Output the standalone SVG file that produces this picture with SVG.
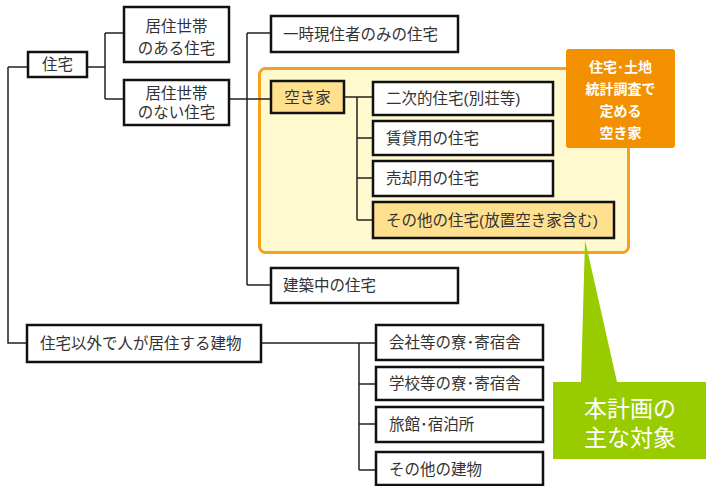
<svg xmlns="http://www.w3.org/2000/svg" width="706" height="486" viewBox="0 0 706 486">
<style>
.box{fill:#fff;stroke:#111;stroke-width:2.5}
.hl{fill:#FFE08E;stroke:#111;stroke-width:2.5}
.t{font-family:"Liberation Sans","Noto Sans CJK JP","Noto Sans CJK SC",sans-serif;font-size:15.5px;fill:#333}
.c{text-anchor:middle}
.ln{fill:none;stroke:#222;stroke-width:1.5}
.wt{font-family:"Liberation Sans","Noto Sans CJK JP",sans-serif;fill:#fff;text-anchor:middle}
</style>
<rect width="706" height="486" fill="#fff"/>
<g id="akiya-area">
<rect x="259.5" y="68.5" width="369" height="184" rx="6" fill="#FFF9CF" stroke="#F4A11E" stroke-width="3"/>
</g>
<g id="connectors">
<path class="ln" d="M8,67H28 M8,67V343H27"/>
<path class="ln" d="M87,67H105 M105,33V99 M105,33H124 M105,99H124"/>
<path class="ln" d="M229,99H271 M247,33V285 M247,33H271 M247,285H271"/>
<path class="ln" d="M344,97H373 M357,97V220 M357,138H373 M357,178H373 M357,220H373"/>
<path class="ln" d="M261,343H376 M359,343V470 M359,384H376 M359,424H376 M359,470H376"/>
</g>
<g id="n-jutaku"><rect class="box" x="28" y="52" width="59" height="25"/><text class="t c" x="57.5" y="70">住宅</text></g>
<g id="n-aru"><rect class="box" x="124" y="7" width="105" height="55"/><text class="t c" x="176.5" y="32">居住世帯</text><text class="t c" x="176.5" y="54">のある住宅</text></g>
<g id="n-nai"><rect class="box" x="124" y="80" width="105" height="45"/><text class="t c" x="176.5" y="99">居住世帯</text><text class="t c" x="176.5" y="118">のない住宅</text></g>
<g id="n-ichiji"><rect class="box" x="271" y="16" width="187" height="36"/><text class="t" x="283" y="40">一時現住者のみの住宅</text></g>
<g id="n-akiya"><rect class="hl" x="271" y="81" width="73" height="32"/><text class="t c" x="307.5" y="103">空き家</text></g>
<g id="n-niji"><rect class="box" x="373" y="82" width="180" height="33"/><text class="t" x="386" y="104">二次的住宅(別荘等)</text></g>
<g id="n-chintai"><rect class="box" x="373" y="121" width="180" height="34"/><text class="t" x="386" y="144">賃貸用の住宅</text></g>
<g id="n-baikyaku"><rect class="box" x="373" y="161" width="180" height="35"/><text class="t" x="386" y="184">売却用の住宅</text></g>
<g id="n-sonota"><rect class="hl" x="373" y="202" width="241" height="36"/><text class="t" x="386" y="226">その他の住宅(放置空き家含む)</text></g>
<g id="n-kenchiku"><rect class="box" x="271" y="268" width="187" height="35"/><text class="t" x="283" y="291">建築中の住宅</text></g>
<g id="n-igai"><rect class="box" x="27" y="325" width="234" height="37"/><text class="t" x="40" y="349">住宅以外で人が居住する建物</text></g>
<g id="n-kaisha"><rect class="box" x="376" y="325" width="167" height="35"/><text class="t" x="389" y="348">会社等の寮･寄宿舎</text></g>
<g id="n-gakko"><rect class="box" x="376" y="367" width="167" height="33"/><text class="t" x="389" y="389">学校等の寮･寄宿舎</text></g>
<g id="n-ryokan"><rect class="box" x="376" y="407" width="167" height="35"/><text class="t" x="389" y="430">旅館･宿泊所</text></g>
<g id="n-sonota2"><rect class="box" x="376" y="452" width="167" height="33"/><text class="t" x="389" y="475">その他の建物</text></g>
<g id="label-toukei">
<rect x="566" y="49" width="109" height="99" rx="3" fill="#F39000"/>
<text class="wt" font-size="14" font-weight="bold"><tspan x="620.5" y="72">住宅･土地</tspan><tspan x="620.5" y="94">統計調査で</tspan><tspan x="620.5" y="116">定める</tspan><tspan x="620.5" y="138">空き家</tspan></text>
</g>
<g id="callout">
<path d="M585,240L617,382H706V459H553V382H581Z" fill="#99CC00"/>
<text class="wt" font-size="23"><tspan x="630" y="417">本計画の</tspan><tspan x="630" y="446">主な対象</tspan></text>
</g>
</svg>
